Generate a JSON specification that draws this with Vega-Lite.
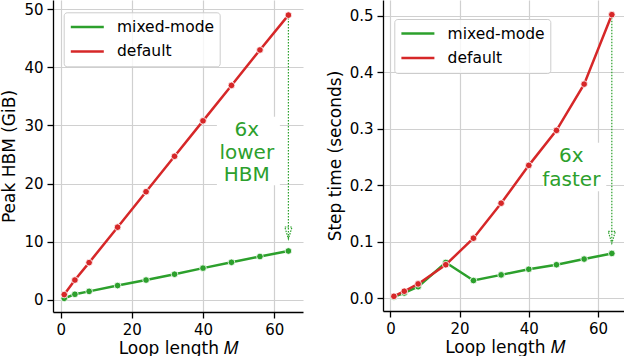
{
  "$schema": "https://vega.github.io/schema/vega-lite/v6.json",
  "padding": 0,
  "spacing": 23,
  "background": "white",
  "resolve": {"scale": {"color": "independent"}, "legend": {"color": "independent"}},
  "config": {
    "font": "DejaVu Sans",
    "view": {"stroke": null},
    "axis": {
      "domainColor": "black", "domainWidth": 1.3,
      "tickColor": "black", "tickWidth": 1.3, "tickSize": 6,
      "labelFontSize": 15, "labelColor": "black", "labelFont": "DejaVu Sans",
      "titleFontSize": 17, "titleFontWeight": "normal", "titleColor": "black", "titleFont": "DejaVu Sans",
      "gridColor": "#d0d0d0", "gridWidth": 1.2, "labelPadding": 4, "labelFlush": false
    },
    "axisX": {"titlePadding": 3},
    "axisY": {"titlePadding": 5},
    "legend": {
      "orient": "none", "symbolType": "M-1,0L3.4,0", "symbolSize": 225, "symbolStrokeWidth": 2.5,
      "labelFontSize": 15.5, "labelColor": "black", "labelFont": "DejaVu Sans", "labelOffset": 29.7,
      "padding": 5.6, "rowPadding": 6.5, "strokeColor": "#cccccc",
      "fillColor": "rgba(255,255,255,0.8)", "cornerRadius": 3
    }
  },
  "datasets": {
    "hbm": [
      {"x": 1, "y": 0.25, "series": "mixed-mode"},
      {"x": 4, "y": 0.95, "series": "mixed-mode"},
      {"x": 8, "y": 1.45, "series": "mixed-mode"},
      {"x": 16, "y": 2.45, "series": "mixed-mode"},
      {"x": 24, "y": 3.4, "series": "mixed-mode"},
      {"x": 32, "y": 4.4, "series": "mixed-mode"},
      {"x": 40, "y": 5.45, "series": "mixed-mode"},
      {"x": 48, "y": 6.45, "series": "mixed-mode"},
      {"x": 56, "y": 7.45, "series": "mixed-mode"},
      {"x": 64, "y": 8.4, "series": "mixed-mode"},
      {"x": 1, "y": 0.9, "series": "default"},
      {"x": 4, "y": 3.4, "series": "default"},
      {"x": 8, "y": 6.4, "series": "default"},
      {"x": 16, "y": 12.5, "series": "default"},
      {"x": 24, "y": 18.6, "series": "default"},
      {"x": 32, "y": 24.7, "series": "default"},
      {"x": 40, "y": 30.8, "series": "default"},
      {"x": 48, "y": 36.9, "series": "default"},
      {"x": 56, "y": 43.0, "series": "default"},
      {"x": 64, "y": 49.0, "series": "default"}
    ],
    "step": [
      {"x": 1, "y": 0.002, "series": "mixed-mode"},
      {"x": 4, "y": 0.009, "series": "mixed-mode"},
      {"x": 8, "y": 0.02, "series": "mixed-mode"},
      {"x": 16, "y": 0.063, "series": "mixed-mode"},
      {"x": 24, "y": 0.031, "series": "mixed-mode"},
      {"x": 32, "y": 0.041, "series": "mixed-mode"},
      {"x": 40, "y": 0.051, "series": "mixed-mode"},
      {"x": 48, "y": 0.059, "series": "mixed-mode"},
      {"x": 56, "y": 0.069, "series": "mixed-mode"},
      {"x": 64, "y": 0.079, "series": "mixed-mode"},
      {"x": 1, "y": 0.003, "series": "default"},
      {"x": 4, "y": 0.012, "series": "default"},
      {"x": 8, "y": 0.025, "series": "default"},
      {"x": 16, "y": 0.059, "series": "default"},
      {"x": 24, "y": 0.106, "series": "default"},
      {"x": 32, "y": 0.168, "series": "default"},
      {"x": 40, "y": 0.235, "series": "default"},
      {"x": 48, "y": 0.297, "series": "default"},
      {"x": 56, "y": 0.379, "series": "default"},
      {"x": 64, "y": 0.502, "series": "default"}
    ],
    "hbmBox": [{"x": 43.9, "x2": 61.6, "y": 19.7, "y2": 31.5}],
    "hbmText": [{"x": 52.3, "y": 25.3, "label": "6x\nlower\nHBM"}],
    "hbmArrow": [{"x": 64, "y": 49.0, "y2": 10.45}],
    "hbmHead": [{"x": 64, "y": 11.5}],
    "stepBox": [{"x": 44.2, "x2": 62.4, "y": 0.189, "y2": 0.275}],
    "stepText": [{"x": 52.3, "y": 0.23, "label": "6x\nfaster"}],
    "stepArrow": [{"x": 64, "y": 0.502, "y2": 0.098}],
    "stepHead": [{"x": 64, "y": 0.1076}]
  },
  "hconcat": [
    {
      "width": 250,
      "height": 312,
      "encoding": {
        "x": {"field": "x", "type": "quantitative",
              "scale": {"domain": [-2.15, 68.1], "nice": false, "zero": false},
              "axis": {"title": "Loop length 𝑀", "values": [0, 20, 40, 60], "grid": true}},
        "y": {"field": "y", "type": "quantitative",
              "scale": {"domain": [-2.1, 51.6], "nice": false, "zero": false},
              "axis": {"title": "Peak HBM (GiB)", "values": [0, 10, 20, 30, 40, 50], "grid": true}}
      },
      "layer": [
        {"data": {"name": "hbmBox"}, "mark": {"type": "rect", "fill": "white"},
         "encoding": {"x2": {"field": "x2"}, "y2": {"field": "y2"}}},
        {"data": {"name": "hbmText"},
         "mark": {"type": "text", "fontSize": 20, "color": "#2ca02c", "lineBreak": "\n", "lineHeight": 22.5, "align": "center", "baseline": "middle", "dy": -22.5},
         "encoding": {"text": {"field": "label"}}},
        {"data": {"name": "hbmArrow"},
         "mark": {"type": "rule", "color": "#2ca02c", "strokeWidth": 1.2, "strokeDash": [1.5, 1.5]},
         "encoding": {"y2": {"field": "y2"}}},
        {"data": {"name": "hbmHead"},
         "mark": {"type": "point", "shape": "M-0.6,-1L0.6,-1L0,1Z", "size": 144, "filled": false, "color": "#2ca02c", "strokeWidth": 1.2, "strokeDash": [1.5, 1.2], "opacity": 1},
         "encoding": {}},
        {"data": {"name": "hbm"}, "transform": [{"filter": "datum.series === 'mixed-mode'"}],
         "mark": {"type": "line", "strokeWidth": 2.5},
         "encoding": {"color": {"field": "series", "type": "nominal",
            "scale": {"domain": ["mixed-mode", "default"], "range": ["#2ca02c", "#d62728"]},
            "legend": {"title": null, "legendX": 10.7, "legendY": 12.3, "labelFontSize": 15.5, "labelFont": "DejaVu Sans"}}}},
        {"data": {"name": "hbm"}, "transform": [{"filter": "datum.series === 'mixed-mode'"}],
         "mark": {"type": "point", "filled": true, "size": 44, "stroke": "white", "strokeWidth": 0.8, "opacity": 1},
         "encoding": {"fill": {"field": "series", "type": "nominal",
            "scale": {"domain": ["mixed-mode", "default"], "range": ["#2ca02c", "#d62728"]}, "legend": null}}},
        {"data": {"name": "hbm"}, "transform": [{"filter": "datum.series === 'default'"}],
         "mark": {"type": "line", "strokeWidth": 2.5},
         "encoding": {"color": {"field": "series", "type": "nominal",
            "scale": {"domain": ["mixed-mode", "default"], "range": ["#2ca02c", "#d62728"]},
            "legend": {"title": null, "legendX": 10.7, "legendY": 12.3, "labelFontSize": 15.5, "labelFont": "DejaVu Sans"}}}},
        {"data": {"name": "hbm"}, "transform": [{"filter": "datum.series === 'default'"}],
         "mark": {"type": "point", "filled": true, "size": 44, "stroke": "white", "strokeWidth": 0.8, "opacity": 1},
         "encoding": {"fill": {"field": "series", "type": "nominal",
            "scale": {"domain": ["mixed-mode", "default"], "range": ["#2ca02c", "#d62728"]}, "legend": null}}}
      ]
    },
    {
      "width": 243,
      "height": 311,
      "encoding": {
        "x": {"field": "x", "type": "quantitative",
              "scale": {"domain": [-2.15, 68.1], "nice": false, "zero": false},
              "axis": {"title": "Loop length 𝑀", "values": [0, 20, 40, 60], "grid": true}},
        "y": {"field": "y", "type": "quantitative",
              "scale": {"domain": [-0.023, 0.528], "nice": false, "zero": false},
              "axis": {"title": "Step time (seconds)", "values": [0, 0.1, 0.2, 0.3, 0.4, 0.5], "format": ".1f", "grid": true}}
      },
      "layer": [
        {"data": {"name": "stepBox"}, "mark": {"type": "rect", "fill": "white"},
         "encoding": {"x2": {"field": "x2"}, "y2": {"field": "y2"}}},
        {"data": {"name": "stepText"},
         "mark": {"type": "text", "fontSize": 20, "color": "#2ca02c", "lineBreak": "\n", "lineHeight": 23.3, "align": "center", "baseline": "middle", "dy": -11.7},
         "encoding": {"text": {"field": "label"}}},
        {"data": {"name": "stepArrow"},
         "mark": {"type": "rule", "color": "#2ca02c", "strokeWidth": 1.2, "strokeDash": [1.5, 1.5]},
         "encoding": {"y2": {"field": "y2"}}},
        {"data": {"name": "stepHead"},
         "mark": {"type": "point", "shape": "M-0.6,-1L0.6,-1L0,1Z", "size": 144, "filled": false, "color": "#2ca02c", "strokeWidth": 1.2, "strokeDash": [1.5, 1.2], "opacity": 1},
         "encoding": {}},
        {"data": {"name": "step"}, "transform": [{"filter": "datum.series === 'mixed-mode'"}],
         "mark": {"type": "line", "strokeWidth": 2.5},
         "encoding": {"color": {"field": "series", "type": "nominal",
            "scale": {"domain": ["mixed-mode", "default"], "range": ["#2ca02c", "#d62728"]},
            "legend": {"title": null, "legendX": 11.3, "legendY": 19, "labelFontSize": 15.5, "labelFont": "DejaVu Sans"}}}},
        {"data": {"name": "step"}, "transform": [{"filter": "datum.series === 'mixed-mode'"}],
         "mark": {"type": "point", "filled": true, "size": 44, "stroke": "white", "strokeWidth": 0.8, "opacity": 1},
         "encoding": {"fill": {"field": "series", "type": "nominal",
            "scale": {"domain": ["mixed-mode", "default"], "range": ["#2ca02c", "#d62728"]}, "legend": null}}},
        {"data": {"name": "step"}, "transform": [{"filter": "datum.series === 'default'"}],
         "mark": {"type": "line", "strokeWidth": 2.5},
         "encoding": {"color": {"field": "series", "type": "nominal",
            "scale": {"domain": ["mixed-mode", "default"], "range": ["#2ca02c", "#d62728"]},
            "legend": {"title": null, "legendX": 11.3, "legendY": 19, "labelFontSize": 15.5, "labelFont": "DejaVu Sans"}}}},
        {"data": {"name": "step"}, "transform": [{"filter": "datum.series === 'default'"}],
         "mark": {"type": "point", "filled": true, "size": 44, "stroke": "white", "strokeWidth": 0.8, "opacity": 1},
         "encoding": {"fill": {"field": "series", "type": "nominal",
            "scale": {"domain": ["mixed-mode", "default"], "range": ["#2ca02c", "#d62728"]}, "legend": null}}}
      ]
    }
  ]
}
